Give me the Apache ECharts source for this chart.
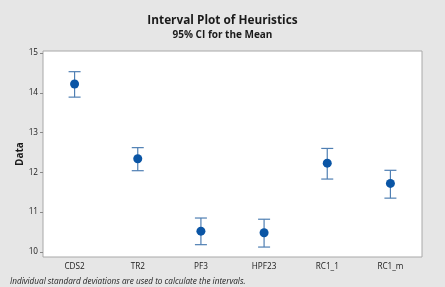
<!DOCTYPE html>
<html>
<head>
<meta charset="utf-8">
<script src="https://cdn.jsdelivr.net/npm/echarts@6/dist/echarts.min.js"></script>
<style>
    html, body { margin: 0; padding: 0; background: #e6e6e6; }
    #chart { width: 445px; height: 287px; }
</style>
</head>
<body>
<div id="chart"></div>
<script>
let categories = ["CDS2", "TR2", "PF3", "HPF23", "RC1_1", "RC1_m"];
let means = [14.22, 12.34, 10.52, 10.48, 12.23, 11.72];
let lowers = [13.89, 12.04, 10.18, 10.12, 11.83, 11.35];
let uppers = [14.53, 12.62, 10.85, 10.82, 12.6, 12.05];
let yTicks = [10, 11, 12, 13, 14, 15];

let font = "Open Sans";
let chart = echarts.init(document.getElementById("chart"));

let intervals = categories.map(function (c, i) {
    return [i, lowers[i], uppers[i]];
});

let options = {
    backgroundColor: "#e6e6e6",
    animation: false,
    title: {
        text: "Interval Plot of Heuristics",
        subtext: "95% CI for the Mean",
        left: "center",
        top: 10,
        itemGap: 3,
        textStyle: {
            fontFamily: font,
            fontSize: 11.8,
            fontWeight: "bold",
            color: "#1a1a1a",
        },
        subtextStyle: {
            fontFamily: font,
            fontSize: 10,
            fontWeight: "bold",
            color: "#1a1a1a",
        },
    },
    graphic: [
        {
            type: "text",
            left: 10,
            top: 278,
            style: {
                text: "Individual standard deviations are used to calculate the intervals.",
                font: "italic 8.2px 'Open Sans'",
                fill: "#222",
            },
        },
    ],
    grid: {
        left: 43,
        right: 23,
        top: 51,
        bottom: 30,
        show: true,
        backgroundColor: "#fff",
        borderColor: "#a8a8a8",
        borderWidth: 1,
    },
    xAxis: {
        type: "category",
        data: categories,
        axisLine: { show: false },
        axisTick: {
            alignWithLabel: true,
            length: 3,
            lineStyle: { color: "#888" },
        },
        axisLabel: {
            fontFamily: font,
            fontSize: 8.2,
            color: "#1a1a1a",
            margin: 6,
        },
    },
    yAxis: {
        type: "value",
        min: 9.87,
        max: 15.05,
        name: "Data",
        nameLocation: "middle",
        nameGap: 18,
        nameMoveOverlap: false,
        nameTextStyle: {
            fontFamily: font,
            fontSize: 10,
            fontWeight: "bold",
            color: "#1a1a1a",
        },
        splitLine: { show: false },
        axisLine: { show: false },
        axisTick: {
            show: true,
            length: 3,
            customValues: yTicks,
            lineStyle: { color: "#888" },
        },
        axisLabel: {
            fontFamily: font,
            fontSize: 8.2,
            color: "#1a1a1a",
            margin: 5,
            customValues: yTicks,
        },
    },
    series: [
        {
            type: "custom",
            data: intervals,
            renderItem: function (params, api) {
                let x = api.value(0);
                let lo = api.coord([x, api.value(1)]);
                let hi = api.coord([x, api.value(2)]);
                let half = 6;
                let style = { stroke: "#4f7fb3", lineWidth: 1.2 };
                return {
                    type: "group",
                    children: [
                        { type: "line", shape: { x1: lo[0], y1: lo[1], x2: hi[0], y2: hi[1] }, style: style },
                        { type: "line", shape: { x1: lo[0] - half, y1: lo[1], x2: lo[0] + half, y2: lo[1] }, style: style },
                        { type: "line", shape: { x1: hi[0] - half, y1: hi[1], x2: hi[0] + half, y2: hi[1] }, style: style },
                    ],
                };
            },
            z: 2,
        },
        {
            type: "scatter",
            data: means,
            symbol: "circle",
            symbolSize: 9,
            itemStyle: { color: "#0a55a5", opacity: 1 },
            z: 3,
        },
    ],
};

chart.setOption(options);
</script>
</body>
</html>
